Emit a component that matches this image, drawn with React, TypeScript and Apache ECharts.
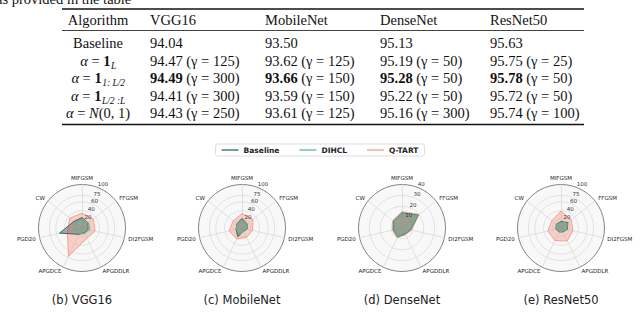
import React, { useEffect, useRef } from 'react';
import * as echarts from 'echarts';

// ---------- data ----------
const attacks = ['MIFGSM', 'FFGSM', 'DI2FGSM', 'APGDDLR', 'APGDCE', 'PGD20', 'CW'];
const methods = ['Baseline', 'DIHCL', 'Q-TART'];
const models = ['VGG16', 'MobileNet', 'DenseNet', 'ResNet50'];
const captions = ['(b) VGG16', '(c) MobileNet', '(d) DenseNet', '(e) ResNet50'];
const radialMax = [100, 100, 40, 100];
const ringTicks = [
  [20, 40, 60, 75, 100],
  [20, 40, 60, 75, 100],
  [5, 10, 20, 30, 40],
  [20, 40, 60, 75, 100],
];

// values in attack order (clockwise from top)
const vggBaseline = [24, 18, 14, 12, 16, 53, 24];
const vggDihcl = [20, 19, 18, 14, 15, 16, 18];
const vggQtart = [34, 33, 31, 26, 72, 34, 36];

const mobBaseline = [22, 15, 12, 8, 22, 14, 15];
const mobDihcl = [18, 14, 11, 9, 14, 14, 14];
const mobQtart = [33, 32, 25, 24, 28, 30, 26];

const denseBaseline = [14, 19, 8, 6, 9, 8, 10];
const denseDihcl = [13.5, 18.5, 7.5, 5.5, 8.5, 7.5, 9.5];
const denseQtart = [15, 20, 9, 7, 10, 9, 11];

const resBaseline = [15, 20, 15, 10, 10, 12, 14];
const resDihcl = [13, 18, 14, 9, 9, 11, 13];
const resQtart = [39, 30, 28, 33, 32, 31, 27];

// table
const tableHeader = ['Algorithm', 'VGG16', 'MobileNet', 'DenseNet', 'ResNet50'];
const rowMain = ['Baseline', 'α = 1', 'α = 1', 'α = 1', 'α = N(0, 1)'];
const rowSub = ['', 'L', '1: L/2', 'L/2 :L', ''];
const accBaseline = [94.04, 93.5, 95.13, 95.63];
const accOnesL = [94.47, 93.62, 95.19, 95.75];
const accFirstHalf = [94.49, 93.66, 95.28, 95.78];
const accSecondHalf = [94.41, 93.59, 95.22, 95.72];
const accNormal = [94.43, 93.61, 95.16, 95.74];
const gammaOnesL = [125, 125, 50, 25];
const gammaFirstHalf = [300, 150, 50, 50];
const gammaSecondHalf = [300, 150, 50, 50];
const gammaNormal = [250, 125, 300, 100];
const boldRow = 2;

// ---------- layout / style ----------
const lineColors = ['#2c6e63', '#5cb88e', '#f4a08e'];
const fillColors = ['rgba(85,85,85,0.45)', 'rgba(92,184,142,0.25)', 'rgba(244,160,142,0.45)'];
const centersX = [82, 242, 402, 561];
const centerY = 228;
const R = 43.5;
const radarOrder = [0, 6, 5, 4, 3, 2, 1]; // ECharts radar runs counter-clockwise
const SERIF = '"Liberation Serif", "DejaVu Serif", serif';
const SANS = '"DejaVu Sans", sans-serif';
const TFS = 14.5;

const measureCtx = typeof document !== 'undefined' ? document.createElement('canvas').getContext('2d') : null;
function measure(text: string, font: string) {
  if (!measureCtx) return text.length * 7;
  measureCtx.font = font;
  return measureCtx.measureText(text).width;
}

function buildTable() {
  const els: any[] = [];
  const x0 = 62, x1 = 584;
  els.push({ type: 'line', shape: { x1: x0, y1: 9, x2: x1, y2: 9 }, style: { stroke: '#111', lineWidth: 1.3 } });
  els.push({ type: 'line', shape: { x1: x0, y1: 30.5, x2: x1, y2: 30.5 }, style: { stroke: '#111', lineWidth: 0.8 } });
  els.push({ type: 'line', shape: { x1: x0, y1: 124.5, x2: x1, y2: 124.5 }, style: { stroke: '#111', lineWidth: 1.3 } });
  const colX = [98, 150, 265, 380, 490];
  const headerY = 19.5;
  tableHeader.forEach((h, i) => {
    els.push({
      type: 'text',
      style: {
        text: h, x: colX[i], y: headerY, align: i === 0 ? 'center' : 'left', verticalAlign: 'middle',
        fontSize: TFS, fontFamily: SERIF, fill: '#111',
      },
    });
  });
  const rowY = [43, 60.5, 78, 95.5, 113];
  const accRows = [accBaseline, accOnesL, accFirstHalf, accSecondHalf, accNormal];
  const gammaRows = [null, gammaOnesL, gammaFirstHalf, gammaSecondHalf, gammaNormal];
  const fN = `${TFS}px ${SERIF}`;
  const fI = `italic ${TFS}px ${SERIF}`;
  const fB = `bold ${TFS}px ${SERIF}`;
  const subSize = 9.5;
  rowMain.forEach((lab, r) => {
    const y = rowY[r];
    let rich: string;
    let w: number;
    if (r === 0) {
      rich = '{n|Baseline}';
      w = measure('Baseline', fN);
    } else if (r === 4) {
      rich = '{i|α}{n| = }{i|N}{n|(0, 1)}';
      w = measure('α', fI) + measure(' = ', fN) + measure('N', fI) + measure('(0, 1)', fN);
    } else {
      rich = '{i|α}{n| = }{b|1}';
      w = measure('α', fI) + measure(' = ', fN) + measure('1', fB);
    }
    const sub = rowSub[r];
    const subW = sub ? measure(sub, `italic ${subSize}px ${SERIF}`) : 0;
    const left = colX[0] - (w + subW) / 2;
    els.push({
      type: 'text',
      style: {
        text: rich, x: left, y, align: 'left', verticalAlign: 'middle',
        rich: {
          n: { fontSize: TFS, fontFamily: SERIF, fill: '#111' },
          i: { fontSize: TFS, fontFamily: SERIF, fontStyle: 'italic', fill: '#111' },
          b: { fontSize: TFS, fontFamily: SERIF, fontWeight: 'bold', fill: '#111' },
        },
      },
    });
    if (sub) {
      els.push({
        type: 'text',
        style: {
          text: sub, x: left + w + 0.5, y: y + 5, align: 'left', verticalAlign: 'middle',
          fontSize: subSize, fontFamily: SERIF, fontStyle: 'italic', fill: '#111',
        },
      });
    }
    accRows[r].forEach((a, c) => {
      const g = gammaRows[r];
      const gTxt = g ? ` (γ = ${g[c]})` : '';
      const txt = r === boldRow ? `{b|${a.toFixed(2)}}{n|${gTxt}}` : `{n|${a.toFixed(2)}${gTxt}}`;
      els.push({
        type: 'text',
        style: {
          text: txt, x: colX[c + 1], y, align: 'left', verticalAlign: 'middle',
          rich: {
            n: { fontSize: TFS, fontFamily: SERIF, fill: '#111' },
            b: { fontSize: TFS, fontFamily: SERIF, fontWeight: 'bold', fill: '#111' },
          },
        },
      });
    });
  });
  // cut-off sentence above the table
  els.push({
    type: 'text',
    style: { text: 'as provided in the table', x: -4, y: 6, align: 'left', verticalAlign: 'bottom', fontSize: TFS, fontFamily: SERIF, fill: '#111' },
  });
  // captions
  captions.forEach((c, i) => {
    els.push({
      type: 'text',
      style: { text: c, x: centersX[i], y: 300, align: 'center', verticalAlign: 'middle', fontSize: 11.5, fontFamily: SANS, fill: '#222' },
    });
  });
  return els;
}

const seriesValues = [
  [vggBaseline, vggDihcl, vggQtart],
  [mobBaseline, mobDihcl, mobQtart],
  [denseBaseline, denseDihcl, denseQtart],
  [resBaseline, resDihcl, resQtart],
];
const drawOrder = [2, 0, 1]; // Q-TART below, then Baseline, DIHCL on top

export default function App() {
  const ref = useRef<HTMLDivElement>(null);
  useEffect(() => {
    if (!ref.current) return;
    const chart = echarts.init(ref.current, null, { renderer: 'svg', width: 640, height: 325 });
    const n = models.length;
    const polarList: any[] = [];
    const angleList: any[] = [];
    const radiusList: any[] = [];
    // polars 0..3: ring grid lines below the data; polars 4..7: ring labels above the data
    for (let layer = 0; layer < 2; layer++) {
      models.forEach((m, i) => {
        const idx = layer * n + i;
        const z = layer === 0 ? 1 : 6;
        polarList.push({ center: [centersX[i], centerY], radius: R, z });
        angleList.push({
          polarIndex: idx, type: 'value', min: 0, max: 360, startAngle: 67.5, z,
          axisLine: { show: false }, axisTick: { show: false }, axisLabel: { show: false }, splitLine: { show: false },
        });
        radiusList.push({
          polarIndex: idx, type: 'value', min: 0, max: radialMax[i], z,
          axisLine: { show: false },
          axisTick: { show: false, customValues: layer === 0 ? ringTicks[i].slice(0, -1) : ringTicks[i] },
          axisLabel: layer === 0
            ? { show: false }
            : {
                customValues: ringTicks[i], fontSize: 5.5, color: '#333', fontFamily: SANS,
                margin: 1, align: 'left', verticalAlign: 'bottom', hideOverlap: false,
              },
          splitLine: layer === 0 ? { show: true, lineStyle: { color: '#dcdcdc', width: 0.8 } } : { show: false },
        });
      });
    }
    const option: any = {
      animation: false,
      backgroundColor: '#ffffff',
      legend: {
        data: methods,
        top: 144,
        left: 'center',
        icon: 'rect',
        itemWidth: 17,
        itemHeight: 1.3,
        itemGap: 20,
        padding: [2, 6, 2, 6],
        borderColor: '#d4d4d4',
        borderWidth: 0.8,
        borderRadius: 2,
        textStyle: { fontSize: 7.5, fontFamily: SANS, color: '#222', fontWeight: 'bold' },
      },
      radar: models.map((m, i) => ({
        center: [centersX[i], centerY],
        radius: R,
        startAngle: 90,
        shape: 'circle',
        splitNumber: 1,
        z: 0,
        indicator: radarOrder.map((k) => ({ name: attacks[k], min: 0, max: radialMax[i] })),
        axisName: { color: '#222', fontSize: 5.5, fontFamily: SANS },
        nameGap: 4,
        axisLine: { lineStyle: { color: '#d9d9d9', width: 0.8 } },
        splitLine: { lineStyle: { color: '#666', width: 0.8 } },
        splitArea: { show: true, areaStyle: { color: ['#f8f8f8'] } },
      })),
      polar: polarList,
      angleAxis: angleList,
      radiusAxis: radiusList,
      series: models.map((m, i) => ({
        type: 'radar',
        radarIndex: i,
        symbol: 'none',
        z: 3,
        data: drawOrder.map((j) => ({
          name: methods[j],
          value: radarOrder.map((k) => seriesValues[i][j][k]),
          lineStyle: { color: lineColors[j], width: 1 },
          itemStyle: { color: lineColors[j] },
          areaStyle: { color: fillColors[j], opacity: 1 },
        })),
      })),
      graphic: buildTable(),
    };
    chart.setOption(option);
    return () => chart.dispose();
  }, []);
  return <div ref={ref} style={{ position: 'fixed', left: 0, top: 0, width: 640, height: 325, background: '#fff' }} />;
}
